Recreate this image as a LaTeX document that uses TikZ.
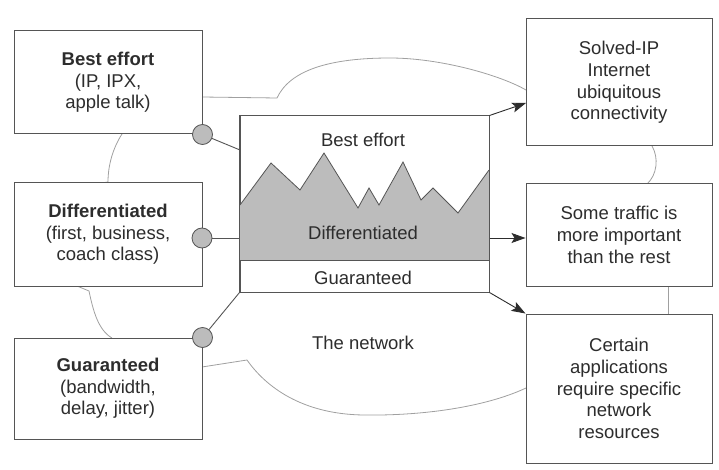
\documentclass[tikz,border=0pt]{standalone}
\usepackage{fontspec}
\setmainfont{Liberation Sans}
\usetikzlibrary{arrows.meta}
\definecolor{edge}{RGB}{85,85,85}
\definecolor{cloudline}{RGB}{160,160,160}
\definecolor{hillgray}{RGB}{188,188,188}
\definecolor{ink}{RGB}{45,45,45}
\tikzset{
  box/.style={draw=edge, line width=1pt, fill=white, align=center, text=ink,
              font=\fontsize{18.5}{21.7}\selectfont, inner sep=0pt},
  port/.style={circle, draw=edge, line width=0.8pt, fill=hillgray, minimum size=20pt, inner sep=0pt},
  label/.style={text=ink, font=\fontsize{18.5}{21.7}\selectfont, inner sep=0pt},
  cloud/.style={draw=cloudline, line width=0.8pt},
  link/.style={draw=edge, line width=0.9pt},
  flow/.style={draw=ink, line width=0.9pt, -{Stealth[length=14pt,width=10pt,inset=3pt]}}
}
\begin{document}
\begin{tikzpicture}[x=1pt, y=-1pt]
\useasboundingbox (0,0) rectangle (719,470);

% cloud outline of the network
\draw[cloud] (202,97) -- (277,98) .. controls (290,70) and (330,58) .. (390,58)
   .. controls (440,58) and (500,75) .. (526,90);
\draw[cloud] (122,134) .. controls (113,148) and (108,165) .. (108,182) -- (95,184);
\draw[cloud] (77,286) -- (89,291) .. controls (93,310) and (98,330) .. (112,338);
\draw[cloud] (202,367) -- (247,360) .. controls (266,387) and (302,414) .. (363,415)
   .. controls (430,416) and (490,405) .. (526,388);
\draw[cloud] (652,146) .. controls (659,158) and (657,175) .. (647,184);
\draw[cloud] (668,286) -- (668,314);

% service classes on the left
\node[box, minimum width=188pt, minimum height=103pt] (best) at (108,82.5)
  {\textbf{Best effort}\\(IP, IPX,\\apple talk)};
\node[box, minimum width=188pt, minimum height=103pt] (diff) at (108,234.5)
  {\textbf{Differentiated}\\(first, business,\\coach class)};
\node[box, minimum width=188pt, minimum height=101pt] (guar) at (108,388.5)
  {\textbf{Guaranteed}\\(bandwidth,\\delay, jitter)};

% requirements on the right
\node[box, minimum width=186pt, minimum height=127pt] (solved) at (619,82.5)
  {Solved-IP\\Internet\\ubiquitous\\connectivity};
\node[box, minimum width=186pt, minimum height=102pt] (traffic) at (619,235)
  {Some traffic is\\more important\\than the rest};
\node[box, minimum width=186pt, minimum height=149pt] (certain) at (619,388.5)
  {Certain\\applications\\require specific\\network\\resources};

% central traffic panel
\node[box, minimum width=249pt, minimum height=176pt] (panel) at (364.5,204) {};
\fill[hillgray] (240,205) -- (271,163) -- (300,190) -- (324,153) -- (358,208) -- (369,188)
  -- (379,205) -- (403,162) -- (421,200) -- (433,188) -- (458,213) -- (489,170)
  -- (489,260) -- (240,260) -- cycle;
\draw[edge, line width=0.8pt] (240,205) -- (271,163) -- (300,190) -- (324,153) -- (358,208)
  -- (369,188) -- (379,205) -- (403,162) -- (421,200) -- (433,188) -- (458,213) -- (489,170);
\draw[edge, line width=1pt] (240,260) -- (489,260);
\draw[edge, line width=1pt] (panel.north west) rectangle (panel.south east);
\node[label] (lblbest) at (363,140) {Best effort};
\node[label] (lbldiff) at (363,233) {Differentiated};
\node[label] (lblguar) at (363,278) {Guaranteed};
\node[label] (lblnet) at (363,343) {The network};

% attachment points and their links into the panel
\node[port] (c1) at (best.south east) {};
\node[port] (c2) at (202,238) {};
\node[port] (c3) at (guar.north east) {};
\coordinate (p1) at (240,150);
\draw[link] (c1) -- (p1);
\draw[link] (c2) -- (c2 -| panel.west);
\draw[link] (c3) -- (panel.south west);

% flows out to the requirements
\coordinate (s1) at (526,103);
\draw[flow] (panel.north east) -- (s1);
\draw[flow] (panel.east |- c2) -- (traffic.west |- c2);
\draw[flow] (panel.south east) -- (certain.north west);
\end{tikzpicture}
\end{document}
